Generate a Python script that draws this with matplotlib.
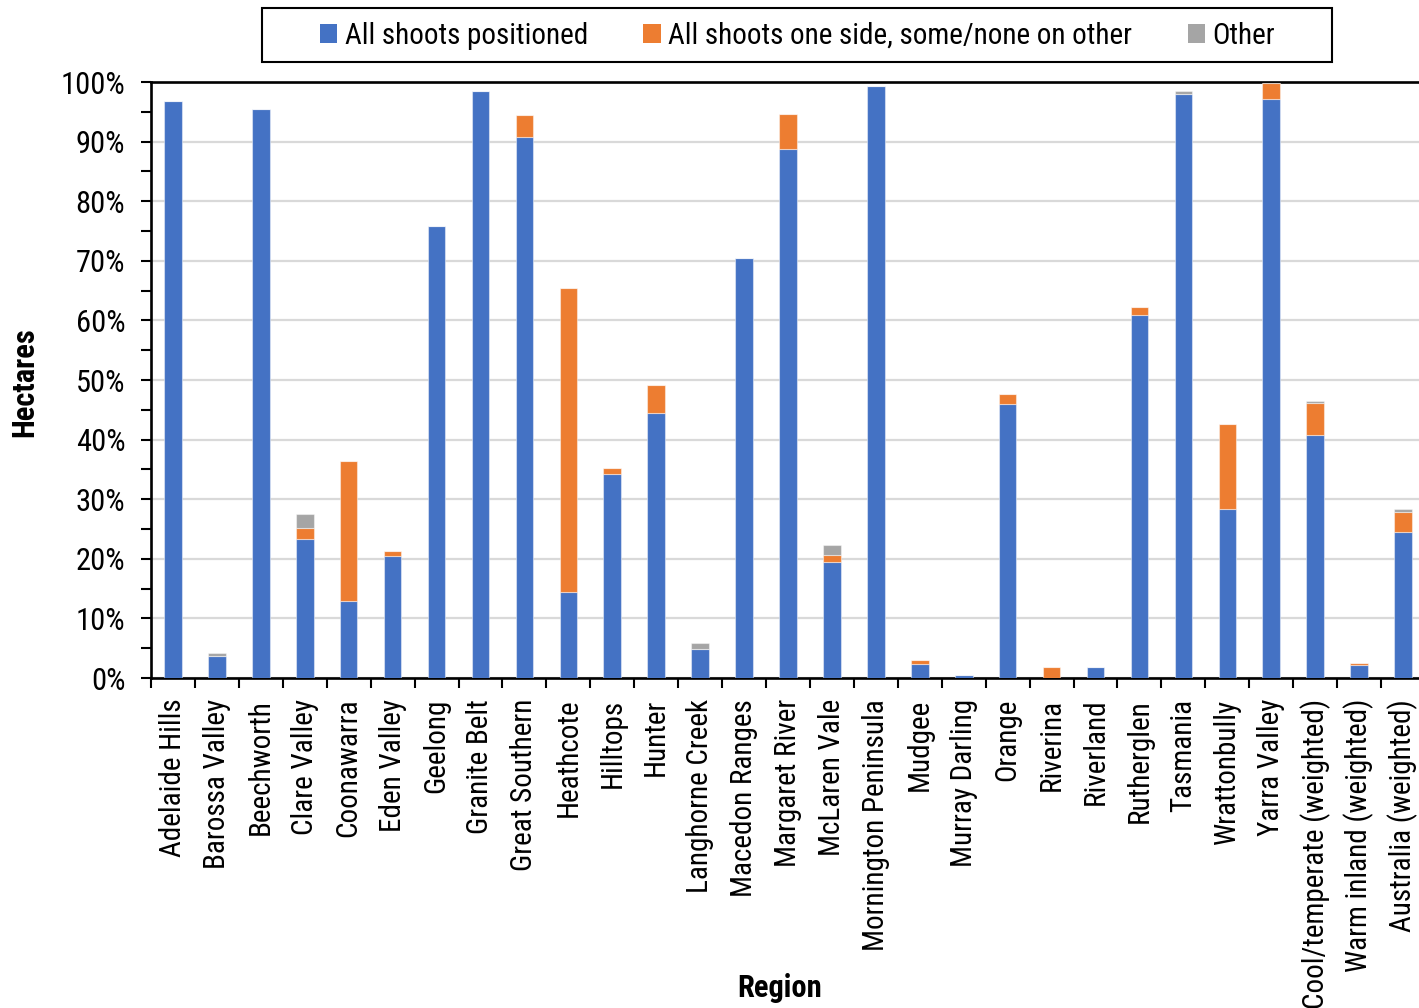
import matplotlib
matplotlib.use("Agg")
import matplotlib.pyplot as plt
import numpy as np
from matplotlib.patches import Patch, Rectangle
from matplotlib.ticker import MultipleLocator, FuncFormatter

plt.rcParams['font.family'] = ['Roboto Condensed', 'Liberation Sans', 'DejaVu Sans']

regions = [
    "Adelaide Hills", "Barossa Valley", "Beechworth", "Clare Valley", "Coonawarra",
    "Eden Valley", "Geelong", "Granite Belt", "Great Southern", "Heathcote",
    "Hilltops", "Hunter", "Langhorne Creek", "Macedon Ranges", "Margaret River",
    "McLaren Vale", "Mornington Peninsula", "Mudgee", "Murray Darling", "Orange",
    "Riverina", "Riverland", "Rutherglen", "Tasmania", "Wrattonbully",
    "Yarra Valley", "Cool/temperate (weighted)", "Warm inland (weighted)",
    "Australia (weighted)",
]

# Share of hectares (%) by shoot positioning practice
all_positioned = [96.8, 3.7, 95.5, 23.3, 12.9, 20.5, 75.8, 98.5, 90.8, 14.5,
                  34.3, 44.5, 4.8, 70.5, 88.8, 19.5, 99.4, 2.4, 0.5, 46.0,
                  0.0, 1.8, 60.9, 98.0, 28.3, 97.1, 40.7, 2.1, 24.5]
one_side = [0.0, 0.0, 0.0, 1.9, 23.5, 0.8, 0.0, 0.0, 3.7, 50.9,
            1.0, 4.7, 0.0, 0.0, 5.9, 1.1, 0.0, 0.7, 0.0, 1.7,
            1.8, 0.0, 1.3, 0.0, 14.4, 2.8, 5.4, 0.4, 3.4]
other = [0.0, 0.5, 0.0, 2.4, 0.0, 0.0, 0.0, 0.0, 0.0, 0.0,
         0.0, 0.0, 1.0, 0.0, 0.0, 1.7, 0.0, 0.0, 0.0, 0.0,
         0.0, 0.0, 0.0, 0.5, 0.0, 0.0, 0.3, 0.0, 0.5]

series_names = ["All shoots positioned", "All shoots one side, some/none on other", "Other"]
colors = ["#4472C4", "#ED7D31", "#A5A5A5"]

W, H = 1419, 1008
FS = 21
fig = plt.figure(figsize=(W / 100, H / 100), dpi=100)
ax = fig.add_axes([151 / W, 1 - 678 / H, 1274 / W, 596 / H])

x = np.arange(len(regions))
bar_w = 0.4
p1 = np.array(all_positioned)
p2 = np.array(one_side)
p3 = np.array(other)
edge = dict(edgecolor=(1, 1, 1, 0.45), linewidth=0.8)
ax.bar(x, p1, bar_w, color=colors[0], zorder=3, **edge)
ax.bar(x, p2, bar_w, bottom=p1, color=colors[1], zorder=3, **edge)
ax.bar(x, p3, bar_w, bottom=p1 + p2, color=colors[2], zorder=3, **edge)

ax.set_xlim(-0.5, len(regions) - 0.5)
ax.set_ylim(0, 100)

# Y axis: percentages with minor ticks at the half steps
ax.yaxis.set_major_locator(MultipleLocator(10))
ax.yaxis.set_minor_locator(MultipleLocator(5))
ax.yaxis.set_major_formatter(FuncFormatter(lambda v, _: f"{int(round(v))}%"))
ax.tick_params(axis='y', which='both', direction='out', length=7.5, width=1.5,
               labelsize=22, pad=11)
ax.grid(axis='y', which='major', color='#D9D9D9', linewidth=1.6, zorder=0)

# X axis: labels at bar centres, tick marks on category boundaries
ax.set_xticks(x)
ax.set_xticklabels(regions, rotation=90, fontsize=FS)
ax.set_xticks(np.arange(len(regions) + 1) - 0.5, minor=True)
ax.tick_params(axis='x', which='major', length=0, pad=15)
ax.tick_params(axis='x', which='minor', direction='out', length=7.5, width=1.5)

for side in ['left', 'bottom', 'top', 'right']:
    ax.spines[side].set_linewidth(1.9)
    ax.spines[side].set_color('black')

fig.text(24 / W, 1 - 382 / H, "Hectares", rotation=90, ha='center', va='center',
         fontsize=22, fontweight='bold')
fig.text(780 / W, 1 - 988 / H, "Region", ha='center', va='center',
         fontsize=22, fontweight='bold')

handles = [Patch(facecolor=c, edgecolor='none') for c in colors]
fig.legend(handles, series_names, loc='center', bbox_to_anchor=(797.5 / W, 1 - 36 / H),
           ncol=3, frameon=False, fontsize=FS, handlelength=0.6, handleheight=0.6,
           handletextpad=0.25, columnspacing=1.9, borderpad=0)
fig.add_artist(Rectangle((262 / W, 1 - 62 / H), (1332 - 262) / W, 54 / H,
                         transform=fig.transFigure, fill=False,
                         edgecolor='black', linewidth=1.5))

fig.savefig("out.png", dpi=100)
